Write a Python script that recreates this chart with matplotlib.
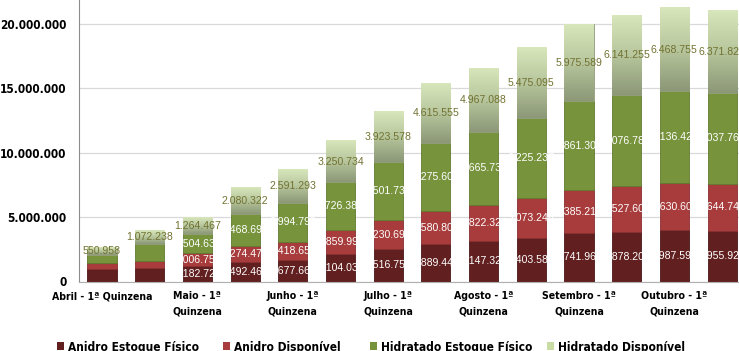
import matplotlib.pyplot as plt
import numpy as np
from matplotlib.colors import LinearSegmentedColormap
from matplotlib.patches import Patch

plt.rcParams['font.family'] = ['DejaVu Sans']
plt.rcParams['font.stretch'] = 'condensed'

# Quinzenas (abril a outubro)
quinzenas = ['Abril - 1ª Quinzena', 'Abril - 2ª Quinzena',
             'Maio - 1ª Quinzena', 'Maio - 2ª Quinzena',
             'Junho - 1ª Quinzena', 'Junho - 2ª Quinzena',
             'Julho - 1ª Quinzena', 'Julho - 2ª Quinzena',
             'Agosto - 1ª Quinzena', 'Agosto - 2ª Quinzena',
             'Setembro - 1ª Quinzena', 'Setembro - 2ª Quinzena',
             'Outubro - 1ª Quinzena', 'Outubro - 2ª Quinzena']
rotulos_x = ['Abril - 1ª Quinzena', '', 'Maio - 1ª\nQuinzena', '',
             'Junho - 1ª\nQuinzena', '', 'Julho - 1ª\nQuinzena', '',
             'Agosto - 1ª\nQuinzena', '', 'Setembro - 1ª\nQuinzena', '',
             'Outubro - 1ª\nQuinzena', '']

# Estoques em m³
anidro_fisico = [948517, 1027384, 1182725, 1492463, 1677664, 2104035, 2516752,
                 2889441, 3147324, 3403581, 3741963, 3878204, 3987591, 3955923]
anidro_disp = [468210, 590145, 1006752, 1274471, 1418652, 1859993, 2230694,
               2580806, 2822325, 3073248, 3385214, 3527606, 3630604, 3644741]
hidratado_fisico = [640382, 1298716, 1504635, 2468693, 2994795, 3726384, 4501737,
                    5275608, 5665735, 6225237, 6861306, 7076785, 7136427, 7037769]
hidratado_disp = [550958, 1072238, 1264467, 2080322, 2591293, 3250734, 3923578,
                  4615555, 4967088, 5475095, 5975589, 6141255, 6468755, 6371824]

# primeiras quinzenas sem rótulo nas séries internas
sem_rotulo = [0, 1]

series = [
    ('Anidro Estoque Físico', anidro_fisico, '#611f1f', '#4a1616'),
    ('Anidro Disponível', anidro_disp, '#a83b3b', '#8a2f2f'),
    ('Hidratado Estoque Físico', hidratado_fisico, '#77933c', '#617a30'),
    ('Hidratado Disponível', hidratado_disp, '#c9dca3', '#8e9a78'),
]


def fmt(v):
    return f'{v:,.0f}'.replace(',', '.')


fig = plt.figure(figsize=(7.39, 3.51), dpi=100)
ax = fig.add_axes([79 / 739, 69.5 / 351, 660 / 739, 281.5 / 351])

x = np.arange(len(quinzenas))
largura = 0.61
base = np.zeros(len(x))
gradiente = LinearSegmentedColormap.from_list('hd', ['#8c9877', '#b7c69c', '#d8e6bc'])

for i, (nome, valores, cor, borda) in enumerate(series):
    valores = np.array(valores, dtype=float)
    ax.bar(x, valores, largura, bottom=base, color=cor, edgecolor=borda,
           linewidth=0.6, zorder=2)
    if i == 3:
        # degradê da série superior
        for xi, b, v in zip(x, base, valores):
            ax.imshow(np.linspace(0, 1, 64).reshape(-1, 1), cmap=gradiente,
                      origin='lower', aspect='auto', zorder=2.5,
                      extent=[xi - largura / 2, xi + largura / 2, b, b + v])
        for xi, b, v in zip(x, base, valores):
            ax.text(xi, b + v / 2, fmt(v), ha='center', va='center',
                    fontsize=7.6, color='#727232', family='Liberation Sans',
                    fontstretch='normal', zorder=4)
    else:
        for j, (xi, b, v) in enumerate(zip(x, base, valores)):
            if j in sem_rotulo:
                continue
            ax.text(xi, b + v / 2, fmt(v), ha='center', va='center',
                    fontsize=7.6, color='white', family='Liberation Sans',
                    fontstretch='normal', zorder=4)
    base += valores

ax.set_xlim(-0.482, 13.354)
ax.set_ylim(0, 21.86e6)

ax.set_yticks([0, 5e6, 10e6, 15e6, 20e6])
ax.set_yticklabels([fmt(v) for v in [0, 5e6, 10e6, 15e6, 20e6]],
                   fontsize=8.5, fontweight='bold')
ax.set_xticks(x)
ax.set_xticklabels(rotulos_x, fontsize=7.6, fontweight='bold', linespacing=1.6)
ax.tick_params(axis='y', length=0, pad=9)
ax.tick_params(axis='x', length=0, pad=7)

ax.grid(axis='y', color='#d9d9d9', linewidth=0.9, zorder=0)
ax.set_axisbelow(True)
for s in ['top', 'right']:
    ax.spines[s].set_visible(False)
ax.spines['left'].set_color('#8c8c8c')
ax.spines['bottom'].set_color('#b0b0b0')

# Legenda em quatro colunas
pos_legenda = [57, 223, 370, 547]
for (nome, _, cor, _), px in zip(series, pos_legenda):
    fig.legend(handles=[Patch(facecolor=cor, edgecolor='none')], labels=[nome],
               loc='center left', bbox_to_anchor=(px / 739, 1 - 347 / 351),
               frameon=False, handlelength=0.6, handleheight=0.6,
               handletextpad=0.35, borderpad=0, borderaxespad=0,
               prop={'size': 8.6, 'weight': 'bold', 'stretch': 'condensed'})

fig.savefig('out.png', dpi=100)
